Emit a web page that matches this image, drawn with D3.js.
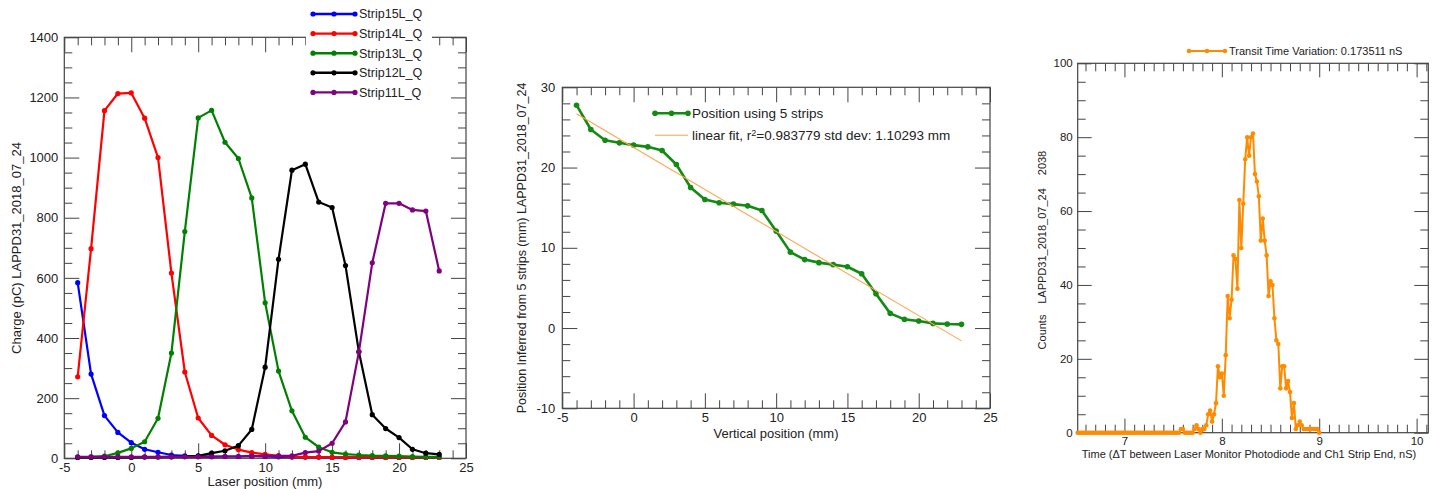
<!DOCTYPE html>
<html><head><meta charset="utf-8">
<script src="https://cdn.jsdelivr.net/npm/d3@7"></script>
<style>
html,body{margin:0;padding:0;background:#fff;}
svg{display:block;font-family:"Liberation Sans",Arial,Helvetica,sans-serif;}
</style></head><body>
<svg id="chart" width="1437" height="489"></svg>
<script>
// ---------- Panel 1 data ----------
const laserPos = [-4,-3,-2,-1,0,1,2,3,4,5,6,7,8,9,10,11,12,13,14,15,16,17,18,19,20,21,22,23];
const strip15 = [584,280,142,86,52,30,20,11,8,7,6,6,6,8,6,5,4,4,4,3,3,3,3,3,3,3,3,3];
const strip14 = [271,697,1156,1213,1215,1131,1000,616,287,134,76,45,29,19,13,8,5,4,4,3,3,3,3,3,3,3,3,3];
const strip13 = [4,5,7,18,33,55,133,350,754,1132,1157,1051,997,866,517,290,158,70,37,20,14,11,9,8,7,6,5,5];
const strip12 = [3,3,3,3,3,4,4,5,6,8,17,25,42,96,303,662,958,978,852,834,641,354,145,99,69,30,17,13];
const strip11 = [5,5,5,5,5,5,5,5,5,5,5,6,6,7,7,8,8,19,24,50,121,354,650,848,848,826,822,623];
const stripNames = ["Strip15L_Q","Strip14L_Q","Strip13L_Q","Strip12L_Q","Strip11L_Q"];
const laserTicks = [-5,0,5,10,15,20,25];
const chargeTicks = [0,200,400,600,800,1000,1200,1400];

// ---------- Panel 2 data ----------
const vertPos = [-4,-3,-2,-1,0,1,2,3,4,5,6,7,8,9,10,11,12,13,14,15,16,17,18,19,20,21,22,23];
const inferredPos = [27.77,24.74,23.41,23.08,22.79,22.58,22.13,20.38,17.52,16.02,15.61,15.44,15.23,14.65,12.08,9.46,8.53,8.15,7.9,7.64,6.77,4.27,1.83,1.08,0.87,0.58,0.5,0.46];
const fitX = [-4, 23];
const fitY = [26.7, -1.6];
const vertTicks = [-5,0,5,10,15,20,25];
const inferredTicks = [-10,0,10,20,30];

// ---------- Panel 3 data ----------
const timeBins = [
 6.52,6.54,6.56,6.58,6.60,6.62,6.64,6.66,6.68,6.70,
 6.72,6.74,6.76,6.78,6.80,6.82,6.84,6.86,6.88,6.90,
 6.92,6.94,6.96,6.98,7.00,7.02,7.04,7.06,7.08,7.10,
 7.12,7.14,7.16,7.18,7.20,7.22,7.24,7.26,7.28,7.30,
 7.32,7.34,7.36,7.38,7.40,7.42,7.44,7.46,7.48,7.50,
 7.52,7.54,7.56,7.58,7.60,7.62,7.64,7.66,7.68,7.70,
 7.72,7.74,7.76,7.78,7.80,7.82,7.84,7.86,7.88,7.90,
 7.92,7.94,7.96,7.98,8.00,8.02,8.04,8.06,8.08,8.10,
 8.12,8.14,8.16,8.18,8.20,8.22,8.24,8.26,8.28,8.30,
 8.32,8.34,8.36,8.38,8.40,8.42,8.44,8.46,8.48,8.50,
 8.52,8.54,8.56,8.58,8.60,8.62,8.64,8.66,8.68,8.70,
 8.72,8.74,8.76,8.78,8.80,8.82,8.84,8.86,8.88,8.90,
 8.92,8.94,8.96,8.98,9.00];
const counts = [
 0,0,0,0,0,0,0,0,0,0,
 0,0,0,0,0,0,0,0,0,0,
 0,0,0,0,0,0,0,0,0,0,
 0,0,0,0,0,0,0,0,0,0,
 0,0,0,0,0,0,0,0,0,0,
 0,0,0,1,1,0,0,0,0,0,
 1,2,1,0,1,1,2,5,6,3,
 5,8,18,15,16,10,21,37,31,36,
 48,47,39,63,50,62,74,80,75,80,
 81,70,68,64,52,58,52,48,37,41,
 40,31,25,24,12,18,18,12,14,11,
 4,8,1,2,3,2,1,1,1,1,
 1,1,1,1,0];
const timeTicks = [7,8,9,10];
const countTicks = [0,20,40,60,80,100];

// ---------- drawing ----------
const svg = d3.select("#chart");
const FONT = '"Liberation Sans",Arial,Helvetica,sans-serif';
const AX = "#444", TXT = "#222";

function styleAxis(g, fs) {
  g.select(".domain").remove();
  g.selectAll(".tick line").attr("stroke", AX).attr("stroke-width", 1);
  g.selectAll("text").attr("font-size", fs).attr("fill", TXT).attr("font-family", FONT);
}

function drawFrame(x, y, o) {
  const [xl, xr] = x.range();
  const [yb, yt] = y.range();
  const fmt = d => String(d);
  const none = () => "";
  svg.append("g").attr("transform", `translate(0,${yb})`)
    .call(d3.axisBottom(x).tickValues(o.xMajor).tickSize(-o.maj).tickPadding(o.xPad).tickFormat(fmt))
    .call(g => styleAxis(g, o.fs));
  svg.append("g").attr("transform", `translate(0,${yb})`)
    .call(d3.axisBottom(x).tickValues(o.xMinor).tickSize(-o.min).tickFormat(none))
    .call(g => styleAxis(g, o.fs));
  svg.append("g").attr("transform", `translate(0,${yt})`)
    .call(d3.axisTop(x).tickValues(o.xMajor).tickSize(-o.maj).tickFormat(none))
    .call(g => styleAxis(g, o.fs));
  svg.append("g").attr("transform", `translate(0,${yt})`)
    .call(d3.axisTop(x).tickValues(o.xMinor).tickSize(-o.min).tickFormat(none))
    .call(g => styleAxis(g, o.fs));
  svg.append("g").attr("transform", `translate(${xl},0)`)
    .call(d3.axisLeft(y).tickValues(o.yMajor).tickSize(-o.maj).tickPadding(o.yPad).tickFormat(fmt))
    .call(g => styleAxis(g, o.fs));
  svg.append("g").attr("transform", `translate(${xl},0)`)
    .call(d3.axisLeft(y).tickValues(o.yMinor).tickSize(-o.min).tickFormat(none))
    .call(g => styleAxis(g, o.fs));
  svg.append("g").attr("transform", `translate(${xr},0)`)
    .call(d3.axisRight(y).tickValues(o.yMajor).tickSize(-o.maj).tickFormat(none))
    .call(g => styleAxis(g, o.fs));
  svg.append("g").attr("transform", `translate(${xr},0)`)
    .call(d3.axisRight(y).tickValues(o.yMinor).tickSize(-o.min).tickFormat(none))
    .call(g => styleAxis(g, o.fs));
  svg.append("rect").attr("x", xl).attr("y", yt).attr("width", xr - xl).attr("height", yb - yt)
    .attr("fill", "none").attr("stroke", AX).attr("stroke-width", 1.2);
}

function minorTicks(lo, hi, step, majorStep) {
  return d3.range(Math.round(lo / step), Math.round(hi / step) + 1)
    .map(i => +(i * step).toFixed(4))
    .filter(v => Math.abs(v / majorStep - Math.round(v / majorStep)) > 1e-6);
}

function drawSeries(xs, ys, x, y, color, lw, r) {
  const pts = xs.map((d, i) => [d, ys[i]]);
  svg.append("path").datum(pts)
    .attr("d", d3.line().x(d => x(d[0])).y(d => y(d[1])))
    .attr("fill", "none").attr("stroke", color).attr("stroke-width", lw).attr("stroke-linejoin", "round");
  svg.append("g").selectAll("circle").data(pts).join("circle")
    .attr("cx", d => x(d[0])).attr("cy", d => y(d[1])).attr("r", r).attr("fill", color);
}

function legendRow(x0, x1, yy, color, lw, r, label, fs, markers) {
  svg.append("line").attr("x1", x0).attr("x2", x1).attr("y1", yy).attr("y2", yy)
    .attr("stroke", color).attr("stroke-width", lw);
  if (markers) {
    [x0, (x0 + x1) / 2, x1].forEach(cx =>
      svg.append("circle").attr("cx", cx).attr("cy", yy).attr("r", r).attr("fill", color));
  }
  return svg.append("text").attr("x", x1 + 4).attr("y", yy).attr("dy", "0.35em")
    .attr("font-size", fs).attr("fill", TXT).attr("font-family", FONT).text(label);
}

function title(txt, x, y, fs, rot) {
  const t = svg.append("text").attr("font-size", fs).attr("fill", TXT).attr("font-family", FONT)
    .attr("text-anchor", "middle").text(txt);
  if (rot) t.attr("transform", `translate(${x},${y}) rotate(-90)`);
  else t.attr("x", x).attr("y", y);
  return t;
}

// ===== Panel 1 =====
{
  const x = d3.scaleLinear().domain([-5, 25]).range([64.3, 466]);
  const y = d3.scaleLinear().domain([0, 1400]).range([458.3, 37.3]);
  drawFrame(x, y, {
    xMajor: laserTicks, xMinor: minorTicks(-5, 25, 1, 5),
    yMajor: chargeTicks, yMinor: minorTicks(0, 1400, 50, 200),
    maj: 15, min: 8, xPad: 4, yPad: 6, fs: 13
  });
  const colors = ["#0000ff", "#ff0000", "#008000", "#000000", "#800080"];
  const all = [strip15, strip14, strip13, strip12, strip11];
  all.forEach((s, i) => drawSeries(laserPos, s, x, y, colors[i], 2.2, 2.6));
  svg.append("rect").attr("x", 306).attr("y", 2).attr("width", 126).attr("height", 99).attr("fill", "#fff");
  stripNames.forEach((n, i) => legendRow(313, 355, 14 + i * 19.6, colors[i], 2.4, 2.6, n, 12.5, true));
  title("Laser position (mm)", 265, 485.5, 13, false);
  title("Charge (pC) LAPPD31_2018_07_24", 21, 248, 13, true);
}

// ===== Panel 2 =====
{
  const x = d3.scaleLinear().domain([-5, 25]).range([562.3, 990]);
  const y = d3.scaleLinear().domain([-10, 30]).range([408.3, 87.3]);
  drawFrame(x, y, {
    xMajor: vertTicks, xMinor: minorTicks(-5, 25, 1, 5),
    yMajor: inferredTicks, yMinor: minorTicks(-10, 30, 2, 10),
    maj: 15, min: 8, xPad: 4, yPad: 7, fs: 13
  });
  drawSeries(vertPos, inferredPos, x, y, "#138a13", 2.6, 2.8);
  svg.append("path").datum(fitX.map((d, i) => [d, fitY[i]]))
    .attr("d", d3.line().x(d => x(d[0])).y(d => y(d[1])))
    .attr("fill", "none").attr("stroke", "#ffa54f").attr("stroke-width", 1.1);
  legendRow(655, 688, 113.3, "#138a13", 2.6, 2.8, "Position using 5 strips", 13.5, true);
  const t = legendRow(655, 688, 135.3, "#ffa54f", 1.1, 0, "linear fit, r", 13.5, false);
  t.append("tspan").attr("font-size", 9).attr("dy", "-0.5em").text("2");
  t.append("tspan").attr("dy", "0.33em").text("=0.983779 std dev: 1.10293 mm");
  title("Vertical position (mm)", 776, 438, 13, false);
  title("Position Inferred from 5 strips (mm) LAPPD31_2018_07_24", 526, 248, 12.5, true);
}

// ===== Panel 3 =====
{
  const x = d3.scaleLinear().domain([6.52, 10.12]).range([1077.7, 1428.3]);
  const y = d3.scaleLinear().domain([0, 100]).range([432.7, 63.3]);
  drawFrame(x, y, {
    xMajor: timeTicks, xMinor: minorTicks(6.6, 10.1, 0.1, 1),
    yMajor: countTicks, yMinor: minorTicks(0, 100, 5, 20),
    maj: 14, min: 8, xPad: 4, yPad: 5, fs: 11.5
  });
  drawSeries(timeBins, counts, x, y, "#ff8c00", 2, 2.3);
  legendRow(1189, 1225, 51, "#ff8c00", 2, 2.3, "Transit Time Variation: 0.173511 nS", 11, true);
  title("Time (\u0394T between Laser Monitor Photodiode and Ch1 Strip End, nS)", 1249, 458, 11, false);
  title("Counts", 1046, 332, 11, true);
  title("LAPPD31_2018_07_24", 1046, 246, 11, true);
  title("2038", 1046, 163, 11, true);
}
</script>
</body></html>
